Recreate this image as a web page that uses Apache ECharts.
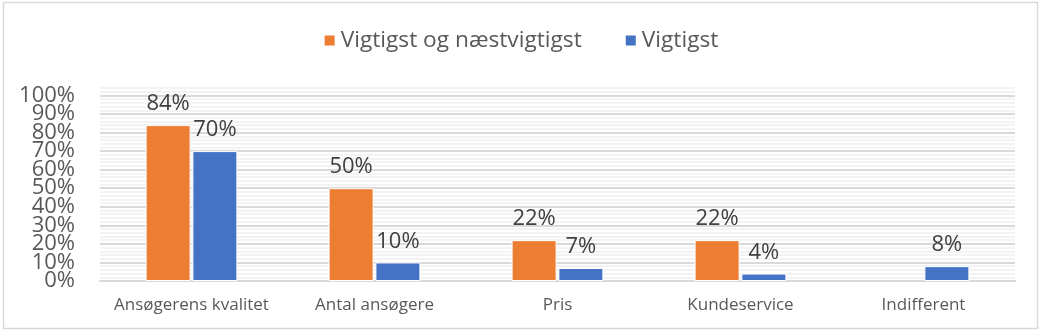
<!DOCTYPE html>
<html>
<head>
<meta charset="utf-8">
<script src="https://cdn.jsdelivr.net/npm/echarts@6/dist/echarts.min.js"></script>
<style>
  html, body { margin: 0; padding: 0; background: #fff; }
  #chart { width: 1041px; height: 332px; }
</style>
</head>
<body>
<div id="chart"></div>
<script>
// Survey answers: what matters most when choosing
const categories = ['Ansøgerens kvalitet', 'Antal ansøgere', 'Pris', 'Kundeservice', 'Indifferent'];
const seriesNames = ['Vigtigst og næstvigtigst', 'Vigtigst'];
const topTwo = [84, 50, 22, 22, null];
const topOne = [70, 10, 7, 4, 8];
const yTicks = [0, 10, 20, 30, 40, 50, 60, 70, 80, 90, 100];

const textColor = '#595959';
const font = '"Open Sans", "Noto Sans", sans-serif';

const chart = echarts.init(document.getElementById('chart'), null, { renderer: 'canvas' });

function barSeries(name, data, color) {
  return {
    name: name,
    type: 'bar',
    data: data,
    yAxisIndex: 0,
    barWidth: 45,
    barGap: '4%',
    itemStyle: { color: color, borderColor: '#ffffff', borderWidth: 1 },
    label: {
      show: true,
      position: 'top',
      distance: 10,
      formatter: p => p.value + '%',
      color: '#404040',
      fontSize: 22,
      fontFamily: font
    }
  };
}

const yLabelStyle = {
  color: textColor,
  fontSize: 22,
  fontFamily: font,
  margin: 25
};

chart.setOption({
  animation: false,
  graphic: [{
    type: 'rect',
    shape: { x: 3.5, y: 2.5, width: 1034, height: 326 },
    style: { fill: 'none', stroke: '#d9d9d9', lineWidth: 1.5 },
    silent: true
  }],
  legend: {
    top: 24,
    left: 'center',
    itemWidth: 12,
    itemHeight: 12,
    itemGap: 42,
    icon: 'rect',
    textStyle: { color: textColor, fontSize: 22.7, fontFamily: font },
    data: seriesNames
  },
  grid: { left: 100, right: 26, top: 88, bottom: 51, containLabel: false },
  xAxis: {
    type: 'category',
    data: categories,
    axisLine: { lineStyle: { color: '#d9d9d9', width: 2 } },
    axisTick: { show: false },
    axisLabel: { interval: 0, hideOverlap: false, color: textColor, fontSize: 17, fontFamily: font, margin: 16 }
  },
  yAxis: [{
    // major 10% lines and their labels (10%..100%)
    type: 'value',
    min: 0,
    max: 104,
    interval: 10,
    axisLine: { show: false },
    axisTick: { show: false },
    axisLabel: Object.assign({}, yLabelStyle, {
      showMaxLabel: false,
      formatter: v => (v !== 0 && yTicks.indexOf(v) >= 0 ? v + '%' : '')
    }),
    splitLine: { show: true, showMaxLine: false, lineStyle: { color: '#d9d9d9', width: 2 } },
    z: 2
  }, {
    // fine 2% grid beneath the major lines
    type: 'value',
    min: 0,
    max: 104,
    interval: 2,
    position: 'left',
    axisLine: { show: false },
    axisTick: { show: false },
    axisLabel: { show: false },
    splitLine: {
      show: true,
      lineStyle: { color: ['rgba(0,0,0,0)', '#efefef', '#efefef', '#efefef', '#efefef'], width: 1.5 }
    },
    z: 1
  }, {
    // baseline label
    type: 'value',
    min: 0,
    max: 104,
    interval: 104,
    position: 'left',
    axisLine: { show: false },
    axisTick: { show: false },
    splitLine: { show: false },
    axisLabel: Object.assign({}, yLabelStyle, {
      showMaxLabel: false,
      formatter: v => (v === yTicks[0] ? v + '%' : '')
    })
  }],
  series: [
    barSeries(seriesNames[0], topTwo, '#ed7d31'),
    barSeries(seriesNames[1], topOne, '#4472c4')
  ]
});
</script>
</body>
</html>
